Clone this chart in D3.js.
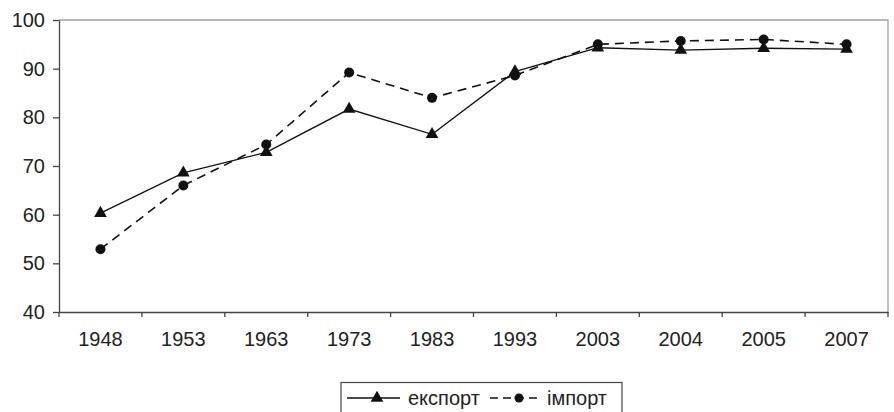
<!DOCTYPE html>
<html><head><meta charset="utf-8">
<script src="https://cdn.jsdelivr.net/npm/d3@7"></script>
<style>html,body{margin:0;padding:0;background:#fff;}svg{display:block;}</style>
</head><body>
<script>
const categories = ["1948","1953","1963","1973","1983","1993","2003","2004","2005","2007"];
const exportValues = [60.3,68.6,72.8,81.7,76.5,89.4,94.3,93.8,94.2,94.0];
const importValues = [52.9,66.0,74.4,89.2,84.0,88.6,95.0,95.7,96.0,95.0];
const yTicks = [40,50,60,70,80,90,100];
const seriesNames = ["експорт","імпорт"];

const W = 894, H = 412;
const m = {left:59, right:6, top:20, bottom:100};
const svg = d3.select("body").append("svg").attr("width",W).attr("height",H);
const font = "'Liberation Sans', Arial, sans-serif";
const fs = 20;

const x = d3.scaleBand().domain(categories).range([m.left, 888]);
const y = d3.scaleLinear().domain([40,100]).range([312, 20]);

// plot border (top, right)
svg.append("path")
  .attr("d", `M${m.left},${y(100)}H${x.range()[1]}V${y(40)}`)
  .attr("fill","none").attr("stroke","#a0a0a0").attr("stroke-width",1.3);

// axes
const yAxis = svg.append("g").attr("transform",`translate(${m.left},0)`)
  .call(d3.axisLeft(y).tickValues(yTicks).tickSize(6).tickPadding(8).tickSizeOuter(0));
const xAxis = svg.append("g").attr("transform",`translate(0,${y(40)})`)
  .call(d3.axisBottom(x).tickSize(0).tickPadding(20).tickSizeOuter(0));
// x ticks at band boundaries
const bounds = categories.map(c => x(c)).concat([x.range()[1]]);
svg.append("g").selectAll("line").data(bounds).join("line")
  .attr("x1",d=>d).attr("x2",d=>d).attr("y1",y(40)).attr("y2",y(40)+5)
  .attr("stroke","#444").attr("stroke-width",1.3);

[yAxis,xAxis].forEach(g=>{
  g.select(".domain").attr("stroke","#444").attr("stroke-width",1.3);
  g.selectAll(".tick line").attr("stroke","#444").attr("stroke-width",1.3);
  g.selectAll("text").attr("font-family",font).attr("font-size",fs).attr("fill","#222");
});

const cx = c => x(c) + x.bandwidth()/2;
const line = d3.line().x((d,i)=>cx(categories[i])).y(d=>y(d));

svg.append("path").datum(importValues).attr("d",line)
  .attr("fill","none").attr("stroke","#111").attr("stroke-width",1.6).attr("stroke-dasharray","9,6");
svg.append("path").datum(exportValues).attr("d",line)
  .attr("fill","none").attr("stroke","#111").attr("stroke-width",1.3);

const tri = d3.symbol().type(d3.symbolTriangle).size(70);
svg.append("g").selectAll("circle").data(importValues).join("circle")
  .attr("cx",(d,i)=>cx(categories[i])).attr("cy",d=>y(d)).attr("r",5).attr("fill","#111");
svg.append("g").selectAll("path").data(exportValues).join("path")
  .attr("d",tri).attr("transform",(d,i)=>`translate(${cx(categories[i])},${y(d)})`).attr("fill","#111");

// legend
const lg = svg.append("g");
lg.append("rect").attr("x",341).attr("y",382.5).attr("width",281).attr("height",40)
  .attr("fill","#fff").attr("stroke","#444").attr("stroke-width",1.2);
const ly = 398;
lg.append("line").attr("x1",347).attr("x2",400).attr("y1",ly).attr("y2",ly).attr("stroke","#111").attr("stroke-width",1.3);
lg.append("path").attr("d",tri).attr("transform",`translate(377,${ly})`).attr("fill","#111");
lg.append("text").attr("x",408).attr("y",ly+7).text(seriesNames[0])
  .attr("font-family",font).attr("font-size",fs).attr("fill","#222");
lg.append("line").attr("x1",490).attr("x2",541).attr("y1",ly).attr("y2",ly).attr("stroke","#111").attr("stroke-width",1.6).attr("stroke-dasharray","8,5");
lg.append("circle").attr("cx",519).attr("cy",ly).attr("r",4.5).attr("fill","#111");
lg.append("text").attr("x",547).attr("y",ly+7).text(seriesNames[1])
  .attr("font-family",font).attr("font-size",fs).attr("fill","#222");
</script>
</body></html>
